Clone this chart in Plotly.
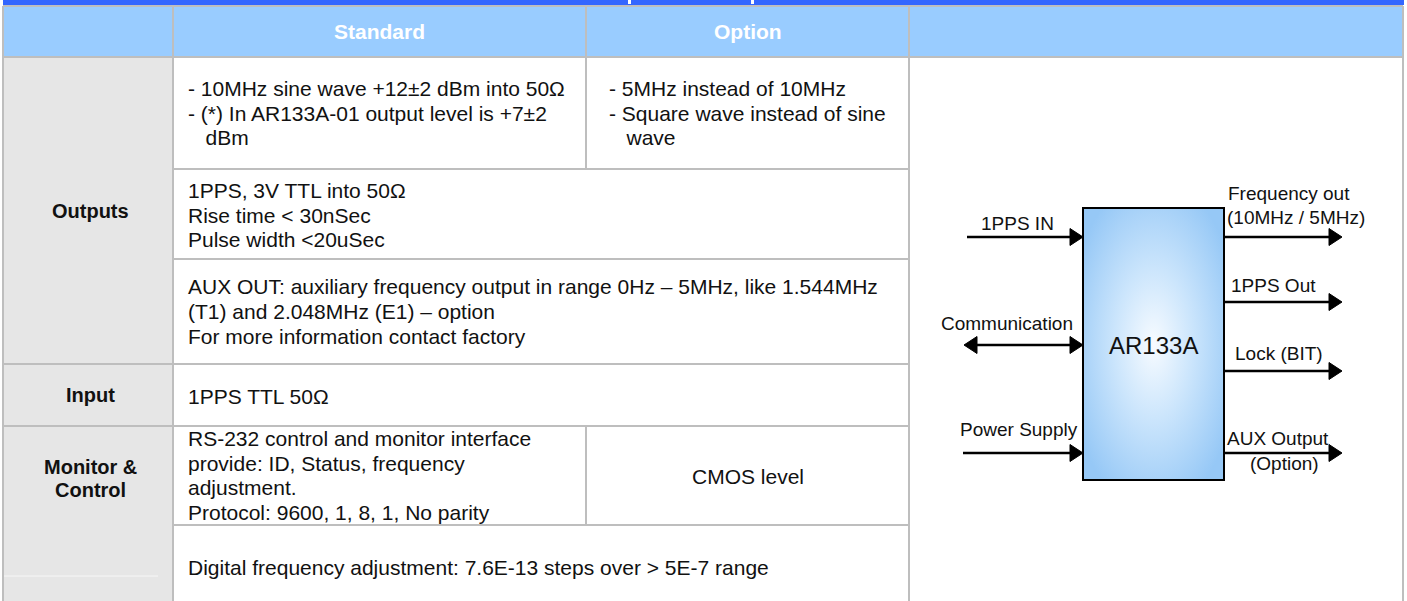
import base64
import plotly.graph_objects as go

# ---------------- data (table content) ----------------
header_labels = ["Standard", "Option"]
section_labels = ["Outputs", "Input", "Monitor &", "Control"]
outputs_standard_1 = ["- 10MHz sine wave +12±2 dBm into 50Ω",
                      "- (*) In AR133A-01 output level is +7±2",
                      "\u00a0\u00a0\u00a0dBm"]
outputs_option_1 = ["- 5MHz instead of 10MHz",
                    "- Square wave instead of sine",
                    "\u00a0\u00a0\u00a0wave"]
outputs_pps = ["1PPS, 3V TTL into 50Ω", "Rise time < 30nSec", "Pulse width <20uSec"]
outputs_aux = ["AUX OUT: auxiliary frequency output in range 0Hz – 5MHz, like 1.544MHz",
               "(T1) and 2.048MHz (E1) – option",
               "For more information contact factory"]
input_text = ["1PPS TTL 50Ω"]
monitor_standard = ["RS-232 control and monitor interface",
                    "provide: ID, Status, frequency",
                    "adjustment.",
                    "Protocol: 9600, 1, 8, 1, No parity"]
monitor_option = ["CMOS level"]
monitor_digital = ["Digital frequency adjustment: 7.6E-13 steps over > 5E-7 range"]

block_name = "AR133A"
diagram_inputs = ["1PPS IN", "Communication", "Power Supply"]
diagram_outputs = [["Frequency out", "(10MHz / 5MHz)"], ["1PPS Out"], ["Lock (BIT)"], ["AUX Output", "(Option)"]]

# ---------------- layout geometry (pixels) ----------------
W, H = 1407, 601
FONT = "Liberation Sans, Arial, Helvetica, sans-serif"
TXT = "#111111"
GRID = "#BEBEBE"
L, C1, C2, C3, R = 3, 173, 586, 909, 1403
TOP, HB = 6, 57
rows = [57, 169, 259, 364, 426, 525, 601]

fig = go.Figure()
shapes = []
ann = []


def rect(x0, y0, x1, y1, fill, line=None, lw=0):
    shapes.append(dict(type="rect", xref="x", yref="y", x0=x0, y0=y0, x1=x1, y1=y1,
                       fillcolor=fill, line=dict(color=line or fill, width=lw), layer="above"))


def hline(y, x0, x1, color=GRID, w=2):
    shapes.append(dict(type="line", xref="x", yref="y", x0=x0, x1=x1, y0=y, y1=y,
                       line=dict(color=color, width=w), layer="above"))


def vline(x, y0, y1, color=GRID, w=2):
    shapes.append(dict(type="line", xref="x", yref="y", x0=x, x1=x, y0=y0, y1=y1,
                       line=dict(color=color, width=w), layer="above"))


def text(s, x, y, size=21, anchor="left", color=TXT, bold=False):
    ann.append(dict(x=x, y=y, xref="x", yref="y", text=s, showarrow=False,
                    xanchor=anchor, yanchor="middle", borderpad=0,
                    font=dict(family=FONT, size=size, color=color,
                              weight="bold" if bold else "normal")))


def lines(items, x, yc, spacing=24.6, size=21, anchor="left"):
    n = len(items)
    y0 = yc - spacing * (n - 1) / 2
    for i, s in enumerate(items):
        text(s, x, y0 + i * spacing, size=size, anchor=anchor)


# backgrounds
rect(L, 0, R + 1, 5, "#3366FF")
rect(628, 0, 631, 4, "#FFFFFF")
rect(751, 0, 754, 4, "#FFFFFF")
rect(L, TOP, R, HB, "#99CCFF")
rect(L, HB, C1, H, "#E6E6E6")
hline(576, L + 1, 158, color="#F7F7F7", w=1)

# grid lines
hline(TOP, L, R)
hline(HB, L, R)
hline(rows[1], C1, C3)
hline(rows[2], C1, C3)
hline(rows[3], L, C3)
hline(rows[4], L, C3)
hline(rows[5], C1, C3)
vline(L, TOP, H)
vline(C1, TOP, H)
vline(C2, TOP, rows[1])
vline(C2, rows[4], rows[5])
vline(C3, TOP, H)
vline(R, TOP, H)

# header texts
text(header_labels[0], (C1 + C2) / 2, 31, size=21, anchor="center", color="#FFFFFF", bold=True)
text(header_labels[1], (C2 + C3) / 2, 31, size=21, anchor="center", color="#FFFFFF", bold=True)

# section labels
cx0 = (L + C1) / 2 + 2
text(section_labels[0], cx0, (rows[0] + rows[3]) / 2, size=20, anchor="center", bold=True)
text(section_labels[1], cx0, (rows[3] + rows[4]) / 2, size=20, anchor="center", bold=True)
text(section_labels[2], cx0, 467, size=20, anchor="center", bold=True)
text(section_labels[3], cx0, 490, size=20, anchor="center", bold=True)

# body texts
TX1, TX2 = 187, 608
lines(outputs_standard_1, TX1, (rows[0] + rows[1]) / 2)
lines(outputs_option_1, TX2, (rows[0] + rows[1]) / 2)
lines(outputs_pps, TX1, (rows[1] + rows[2]) / 2 + 1)
lines(outputs_aux, TX1, (rows[2] + rows[3]) / 2)
lines(input_text, TX1, (rows[3] + rows[4]) / 2 + 1)
lines(monitor_standard, TX1, (rows[4] + rows[5]) / 2)
lines(monitor_option, (C2 + C3) / 2, (rows[4] + rows[5]) / 2 + 1, anchor="center")
lines(monitor_digital, TX1, 567)

# ---------------- block diagram ----------------
BX0, BX1, BY0, BY1 = 1083, 1224, 208, 480
svg = (
    '<svg xmlns="http://www.w3.org/2000/svg" width="141" height="272" viewBox="0 0 141 272" '
    'preserveAspectRatio="none"><defs><radialGradient id="g" cx="50%" cy="50%" r="62%">'
    '<stop offset="0" stop-color="#F7FBFF"/><stop offset="0.45" stop-color="#CBE5FC"/>'
    '<stop offset="1" stop-color="#96C8F6"/></radialGradient></defs>'
    '<rect width="141" height="272" fill="url(#g)"/></svg>'
)
src = "data:image/svg+xml;base64," + base64.b64encode(svg.encode()).decode()
img = dict(source=src, xref="paper", yref="paper", x=BX0 / W, y=1 - BY0 / H,
           sizex=(BX1 - BX0) / W, sizey=(BY1 - BY0) / H, sizing="stretch",
           xanchor="left", yanchor="top", layer="above")
shapes.append(dict(type="rect", xref="x", yref="y", x0=BX0, x1=BX1, y0=BY0, y1=BY1,
                   line=dict(color="#000000", width=2), fillcolor="rgba(0,0,0,0)", layer="above"))
text(block_name, (BX0 + BX1) / 2, 345, size=24, anchor="center", color="#111111")


def arrow_line(x0, x1, y):
    shapes.append(dict(type="line", xref="x", yref="y", x0=x0, x1=x1, y0=y, y1=y,
                       line=dict(color="#000000", width=2.5), layer="above"))


def head(tx, y, direction=1, ln=13, hw=8.5):
    bx = tx - direction * ln
    shapes.append(dict(type="path", xref="x", yref="y",
                       path=f"M {bx},{y - hw} L {tx},{y} L {bx},{y + hw} Z",
                       fillcolor="#000000", line=dict(color="#000000", width=1), layer="above"))


in_y = [237, 345, 453]
in_x0 = [967, 977, 963]
for i, (lab, y) in enumerate(zip(diagram_inputs, in_y)):
    arrow_line(in_x0[i], BX0 - 10, y)
    head(BX0, y, 1)
in_label_pos = [(1017, 223), (1007, 323), (1019, 429)]
for lab, (x, y) in zip(diagram_inputs, in_label_pos):
    text(lab, x, y, size=19, anchor="center")
head(964, 345, -1)

out_y = [237, 302, 371, 453]
for y in out_y:
    arrow_line(BX1, 1332, y)
    head(1342, y, 1)
text(diagram_outputs[0][0], 1227, 193, size=19)
text(diagram_outputs[0][1], 1226, 217, size=19)
text(diagram_outputs[1][0], 1230, 285, size=19)
text(diagram_outputs[2][0], 1234, 353, size=19)
text(diagram_outputs[3][0], 1278, 438, size=19, anchor="center")
text(diagram_outputs[3][1], 1284, 463, size=19, anchor="center")

fig.update_layout(
    width=W, height=H, autosize=False,
    margin=dict(l=0, r=0, t=0, b=0, pad=0),
    paper_bgcolor="#FFFFFF", plot_bgcolor="rgba(0,0,0,0)",
    xaxis=dict(range=[0, W], visible=False, fixedrange=True),
    yaxis=dict(range=[H, 0], visible=False, fixedrange=True),
    shapes=shapes, annotations=ann, images=[img], showlegend=False,
)

fig.write_html("out.html", config={"displayModeBar": False},
               post_script="document.body.style.margin='0';document.body.style.overflow='hidden';")
